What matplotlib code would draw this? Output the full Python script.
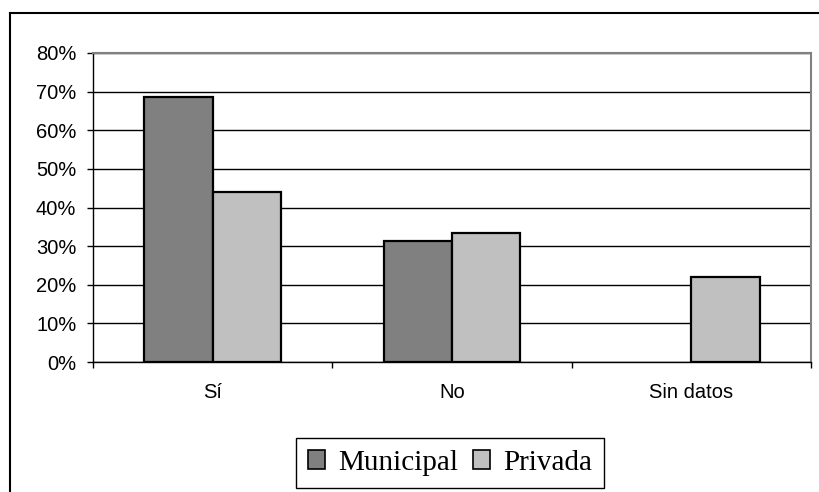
import numpy as np
import matplotlib
matplotlib.use('Agg')
import matplotlib.pyplot as plt
from matplotlib.lines import Line2D
from matplotlib.ticker import FixedLocator, PercentFormatter

categories = ['Sí', 'No', 'Sin datos']
municipal = [68.5, 31.3, 0.0]
privada = [44.1, 33.4, 21.9]
series_names = ['Municipal', 'Privada']

plt.rcParams['font.family'] = ['Liberation Sans', 'DejaVu Sans']

fig = plt.figure(figsize=(8.19, 4.92), dpi=100)
ax = fig.add_axes([93 / 819, 1 - 362 / 492, 718 / 819, 309 / 492])

x = np.arange(len(categories))
w = 1 / 3.5
# no outline for empty bars (Excel draws nothing there)
ax.bar(x - w / 2, municipal, w, color='#808080', edgecolor='black',
       linewidth=[1.6 if v > 0 else 0 for v in municipal],
       label=series_names[0], zorder=3)
ax.bar(x + w / 2, privada, w, color='#c0c0c0', edgecolor='black',
       linewidth=[1.6 if v > 0 else 0 for v in privada],
       label=series_names[1], zorder=3)

ax.set_xlim(-0.5, 2.5)
ax.set_ylim(0, 80)
ax.set_yticks(np.arange(0, 81, 10))
ax.yaxis.set_major_formatter(PercentFormatter(decimals=0))
ax.grid(axis='y', color='black', linewidth=1, zorder=1)
ax.set_axisbelow(True)

ax.set_xticks(x)
ax.set_xticklabels(categories)
ax.xaxis.set_minor_locator(FixedLocator([-0.5, 0.5, 1.5, 2.5]))
ax.tick_params(axis='x', which='major', length=0, pad=15, labelsize=14.5)
ax.tick_params(axis='x', which='minor', length=4, direction='out', width=1)
ax.tick_params(axis='y', length=4, width=1, direction='out', pad=8, labelsize=14.5)

for side in ['top', 'right']:
    ax.spines[side].set_color('#808080')
    ax.spines[side].set_linewidth(1.5)
for side in ['left', 'bottom']:
    ax.spines[side].set_color('black')
    ax.spines[side].set_linewidth(1)

leg = ax.legend(loc='center', bbox_to_anchor=(450 / 819, 1 - 463 / 492),
                bbox_transform=fig.transFigure, ncol=2, frameon=True,
                fancybox=False, edgecolor='black', framealpha=1,
                prop={'family': 'Liberation Serif', 'size': 21},
                handlelength=0.6, handleheight=0.6, handletextpad=0.45,
                columnspacing=0.5, borderpad=0.4, borderaxespad=0)
leg.get_frame().set_linewidth(1)
for h in leg.legend_handles:
    h.set_linewidth(1.2)

# outer chart border (left and top only visible)
fig.add_artist(Line2D([10 / 819, 10 / 819], [0, 1 - 13 / 492], transform=fig.transFigure,
                      color='black', linewidth=1.5))
fig.add_artist(Line2D([10 / 819, 1], [1 - 13 / 492, 1 - 13 / 492], transform=fig.transFigure,
                      color='black', linewidth=1.5))

fig.savefig('out.png', dpi=100)
